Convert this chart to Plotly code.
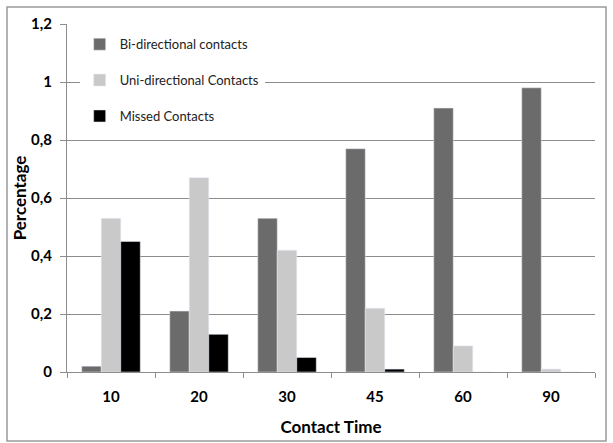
import plotly.graph_objects as go

categories = ["10", "20", "30", "45", "60", "90"]
bi_directional = [0.02, 0.21, 0.53, 0.77, 0.91, 0.98]
uni_directional = [0.53, 0.67, 0.42, 0.22, 0.09, 0.01]
missed = [0.45, 0.13, 0.05, 0.01, 0.0, 0.0]
y_tick_vals = [0, 0.2, 0.4, 0.6, 0.8, 1.0, 1.2]
y_tick_text = ["0", "0,2", "0,4", "0,6", "0,8", "1", "1,2"]

W, H = 613, 443
L, R, T, B = 67, 18, 24, 71
pw, ph = W - L - R, H - T - B

fig = go.Figure()
fig.add_bar(x=categories, y=bi_directional, name="Bi-directional contacts",
            marker_color="#6b6b6b", legendgroup="a")
fig.add_bar(x=categories, y=uni_directional, name="Uni-directional Contacts",
            marker_color="#c9c9c9", legendgroup="b")
fig.add_bar(x=categories, y=missed, name="Missed Contacts",
            marker_color="#000000", legendgroup="c")

fig.update_layout(
    width=W, height=H,
    margin=dict(l=L, r=R, t=T, b=B, autoexpand=False),
    paper_bgcolor="white", plot_bgcolor="white",
    barmode="group", bargap=0.335, bargroupgap=0,
    font=dict(family="Lato, Open Sans, sans-serif", color="#000000"),
    legend=dict(x=0.024, y=0.985, xanchor="left", yanchor="top",
                bgcolor="white", font=dict(size=13, color="#222222"),
                tracegroupgap=16, itemwidth=30),
    showlegend=True,
)
fig.update_xaxes(
    type="category", showline=True, linecolor="#8c8c8c", linewidth=1,
    ticks="outside", tickson="boundaries", ticklen=5, tickcolor="#8c8c8c",
    tickfont=dict(size=15, weight="bold"), showgrid=False, automargin=False,
    ticklabelstandoff=11,
    title=dict(text="Contact Time", font=dict(size=17, weight="bold"), standoff=17),
)
fig.update_yaxes(
    range=[0, 1.2], tickvals=y_tick_vals, ticktext=y_tick_text,
    showline=True, linecolor="#8c8c8c", linewidth=1,
    ticks="outside", ticklen=6, tickcolor="#8c8c8c",
    showgrid=True, gridcolor="#8c8c8c", gridwidth=1, zeroline=False,
    tickfont=dict(size=15, weight="bold"), automargin=False,
    ticklabelstandoff=5,
    title=dict(text="Percentage", font=dict(size=17, weight="bold"), standoff=0),
)
# outer chart border
fig.add_shape(type="rect", xref="paper", yref="paper",
              x0=(7 - L) / pw, x1=(606 - L) / pw,
              y0=(H - B - 441) / ph, y1=(H - B - 7) / ph,
              line=dict(color="#9a9a9a", width=1.5), layer="below")

fig.write_html("out.html", config={"displayModeBar": False},
               post_script="document.body.style.margin='0';document.body.style.overflow='hidden';")
